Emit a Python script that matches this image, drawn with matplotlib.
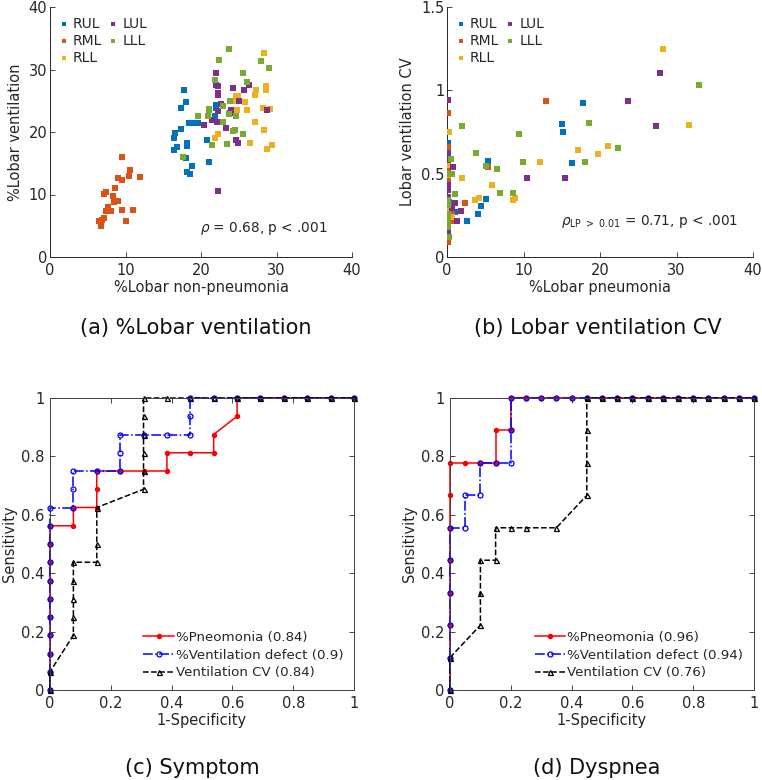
import matplotlib
matplotlib.use("Agg")
import matplotlib.pyplot as plt
import numpy as np

# ---- colours (MATLAB default order) ----
C_RUL, C_RML, C_RLL, C_LUL, C_LLL = "#0072BD", "#D95319", "#EDB120", "#7E2F8E", "#77AC30"
TXT = "#262626"

lobes = ["RUL", "RML", "RLL", "LUL", "LLL"]
lobe_colors = [C_RUL, C_RML, C_RLL, C_LUL, C_LLL]

# ---- (a) %lobar non-pneumonia vs %lobar ventilation ----
a_rul_x = [17.7, 18.0, 17.3, 22.0, 22.0, 21.9, 19.2, 19.6, 18.4, 17.4, 16.5, 16.4, 16.8, 16.4, 18.1, 18.1, 20.8, 18.0, 21.0, 18.8, 18.1, 18.6]
a_rul_y = [26.8, 24.8, 23.8, 24.4, 23.8, 22.6, 21.5, 21.4, 21.4, 20.5, 19.9, 19.1, 17.6, 17.1, 18.3, 17.8, 18.7, 15.9, 15.2, 14.5, 13.6, 13.3]
a_rml_x = [9.5, 10.6, 10.4, 11.9, 9.0, 9.6, 8.6, 7.4, 7.1, 8.3, 9.0, 8.5, 7.7, 7.4, 8.1, 9.5, 11.0, 10.0, 6.5, 6.9, 7.2, 6.8]
a_rml_y = [16.0, 13.9, 13.0, 12.8, 12.7, 12.3, 11.0, 10.4, 10.1, 9.7, 9.0, 8.8, 8.0, 7.4, 7.4, 7.6, 7.6, 5.8, 5.7, 6.0, 6.2, 4.9]
a_rll_x = [28.4, 28.6, 28.6, 27.3, 27.2, 24.6, 24.9, 24.6, 25.8, 28.2, 29.2, 26.1, 24.8, 24.7, 27.2, 28.4, 22.3, 21.9, 26.5, 29.4, 28.8]
a_rll_y = [32.7, 27.3, 26.8, 26.8, 25.9, 25.8, 25.7, 24.9, 24.8, 23.8, 23.7, 23.6, 23.5, 22.5, 21.6, 20.4, 19.7, 19.1, 18.3, 18.0, 17.3]
a_lul_x = [22.0, 22.0, 22.3, 22.3, 22.2, 24.2, 25.7, 26.3, 25.0, 22.6, 24.0, 23.9, 22.2, 21.5, 22.1, 20.4, 23.3, 24.7, 24.9, 28.8, 22.3]
a_lul_y = [29.5, 27.5, 27.3, 26.2, 25.9, 27.0, 26.7, 27.5, 24.9, 24.5, 23.6, 23.0, 23.4, 22.0, 21.6, 21.1, 20.7, 18.8, 18.3, 23.6, 10.6]
a_lll_x = [23.7, 22.4, 27.9, 29.0, 25.5, 26.1, 21.9, 23.8, 22.9, 21.0, 21.0, 19.6, 20.9, 23.7, 24.6, 22.9, 24.5, 24.2, 25.5, 21.5, 23.5, 17.6]
a_lll_y = [33.3, 31.5, 31.4, 30.2, 29.5, 28.0, 28.3, 24.9, 24.2, 23.7, 23.5, 22.6, 22.5, 22.9, 22.5, 21.6, 20.3, 20.1, 19.7, 17.9, 18.1, 16.0]

# ---- (b) %lobar pneumonia vs lobar ventilation CV ----
b_rul_x = [17.8, 15.0, 15.1, 16.4, 5.4, 5.1, 4.5, 4.0, 2.6, 1.1, 0.1, 0.1, 0.1, 0.1, 0.2, 0.1, 0.1, 0.1, 0.1]
b_rul_y = [0.926, 0.798, 0.748, 0.564, 0.574, 0.348, 0.304, 0.260, 0.214, 0.270, 0.682, 0.638, 0.45, 0.29, 0.33, 0.42, 0.25, 0.36, 0.52]
b_rml_x = [13.0, 5.4, 2.4, 0.7, 0.7, 0.1, 0.1, 0.1, 0.1, 0.1, 0.1, 0.1, 0.1, 0.2, 0.1]
b_rml_y = [0.936, 0.54, 0.326, 0.214, 0.268, 0.862, 0.662, 0.532, 0.462, 0.41, 0.09, 0.49, 0.35, 0.30, 0.20]
b_rll_x = [28.2, 31.6, 21.0, 19.8, 17.1, 12.2, 9.9, 5.9, 4.2, 3.6, 8.9, 8.6, 1.9, 0.2, 0.7, 0.1, 0.1, 0.1, 0.1, 0.1]
b_rll_y = [1.248, 0.792, 0.664, 0.616, 0.640, 0.572, 0.572, 0.434, 0.356, 0.340, 0.352, 0.342, 0.472, 0.748, 0.24, 0.552, 0.49, 0.352, 0.28, 0.17]
b_lul_x = [27.8, 23.6, 27.3, 10.4, 15.4, 0.8, 1.0, 0.7, 1.8, 1.3, 0.1, 0.1, 0.1, 0.1, 0.1, 0.1, 0.1, 0.1, 0.1]
b_lul_y = [1.104, 0.936, 0.784, 0.474, 0.474, 0.54, 0.322, 0.294, 0.278, 0.216, 0.94, 0.618, 0.58, 0.43, 0.40, 0.16, 0.13, 0.36, 0.25]
b_lll_x = [33.0, 18.5, 22.4, 18.1, 9.4, 9.9, 6.6, 5.1, 3.8, 6.9, 8.6, 2.0, 1.0, 0.6, 0.5, 0.3, 0.1, 0.1, 0.1, 0.1, 0.1, 0.1, 0.1]
b_lll_y = [1.034, 0.806, 0.654, 0.568, 0.736, 0.568, 0.528, 0.548, 0.626, 0.386, 0.386, 0.786, 0.380, 0.496, 0.586, 0.12, 0.50, 0.34, 0.31, 0.26, 0.20, 0.18, 0.22]

# ---- (c) symptom ROC ----
n13 = 1 / 13
c_pn_x = [0] * 10 + [n13, n13, 2*n13, 2*n13, 2*n13, 3*n13, 4*n13, 5*n13, 5*n13, 6*n13, 7*n13, 7*n13, 8*n13, 8*n13, 9*n13, 10*n13, 11*n13, 12*n13, 1]
c_pn_y = [0, .0625, .125, .1875, .25, .3125, .375, .4375, .5, .5625,
          .5625, .625, .625, .6875, .75, .75, .75, .75, .8125, .8125, .8125, .875, .9375, 1, 1, 1, 1, 1, 1]
c_vd_x = [0] * 11 + [n13, n13, n13, 2*n13, 3*n13, 3*n13, 3*n13, 4*n13, 5*n13, 6*n13, 6*n13, 6*n13, 7*n13, 8*n13, 9*n13, 10*n13, 11*n13, 12*n13, 1]
c_vd_y = [0, .0625, .125, .1875, .25, .3125, .375, .4375, .5, .5625, .625,
          .625, .6875, .75, .75, .75, .8125, .875, .875, .875, .875, .9375, 1, 1, 1, 1, 1, 1, 1, 1]
c_cv_x = [0, 0, n13, n13, n13, n13, n13, 2*n13, 2*n13, 2*n13, 4*n13, 4*n13, 4*n13, 4*n13, 4*n13, 4*n13, 5*n13, 6*n13, 7*n13, 8*n13, 9*n13, 10*n13, 11*n13, 12*n13, 1]
c_cv_y = [0, .0625, .1875, .25, .3125, .375, .4375, .4375, .5, .625, .6875, .75, .8125, .875, .9375, 1, 1, 1, 1, 1, 1, 1, 1, 1, 1]
c_auc = [0.84, 0.9, 0.84]

# ---- (d) dyspnea ROC ----
n9 = 1 / 9
d_pn_x = [0] * 8 + [.05, .1, .15, .15, .2, .2] + [.25, .3, .35, .4, .45, .5, .55, .6, .65, .7, .75, .8, .85, .9, .95, 1]
d_pn_y = [0, n9, 2*n9, 3*n9, 4*n9, 5*n9, 6*n9, 7*n9, 7*n9, 7*n9, 7*n9, 8*n9, 8*n9, 1] + [1] * 16
d_vd_x = [0] * 6 + [.05, .05, .1, .1, .15, .2, .2, .2] + [.25, .3, .35, .4, .45, .5, .55, .6, .65, .7, .75, .8, .85, .9, .95, 1]
d_vd_y = [0, n9, 2*n9, 3*n9, 4*n9, 5*n9, 5*n9, 6*n9, 6*n9, 7*n9, 7*n9, 7*n9, 8*n9, 1] + [1] * 16
d_cv_x = [0, 0, .1, .1, .1, .15, .15, .2, .25, .35, .45, .45, .45, .45, .5, .55, .6, .65, .7, .75, .8, .85, .9, .95, 1]
d_cv_y = [0, n9, 2*n9, 3*n9, 4*n9, 4*n9, 5*n9, 5*n9, 5*n9, 5*n9, 6*n9, 7*n9, 8*n9, 1, 1, 1, 1, 1, 1, 1, 1, 1, 1, 1, 1]
d_auc = [0.96, 0.94, 0.76]

roc_names = ["%Pneomonia", "%Ventilation defect", "Ventilation CV"]

W, H = 762, 780
fig = plt.figure(figsize=(W / 100, H / 100), dpi=100)


def px_axes(l, t, r, b):
    return fig.add_axes([l / W, 1 - b / H, (r - l) / W, (b - t) / H])


def style(ax, box, ypad):
    for s in ["left", "bottom", "top", "right"]:
        ax.spines[s].set_color(TXT if not box else "#404040")
        ax.spines[s].set_linewidth(0.7)
    if not box:
        ax.spines["top"].set_visible(False)
        ax.spines["right"].set_visible(False)
    ax.tick_params(direction="in", length=3.5, width=0.6, colors=TXT,
                   labelsize=10.5, top=box, right=box)
    ax.tick_params(axis="x", pad=4)
    ax.tick_params(axis="y", pad=ypad)


def scatter_panel(ax, xs, ys, xlabel, ylabel, ylim, yticks, yticklabels, note, note_xy):
    for lab, col, x, y in zip(lobes, lobe_colors, xs, ys):
        ax.scatter(x, y, marker="s", s=15, color=col, linewidths=0, label=lab, zorder=3)
    ax.set_xlim(0, 40)
    ax.set_ylim(*ylim)
    ax.set_xticks([0, 10, 20, 30, 40])
    ax.set_yticks(yticks)
    ax.set_yticklabels(yticklabels)
    ax.set_xlabel(xlabel, fontsize=10.5, color=TXT, labelpad=2)
    ax.set_ylabel(ylabel, fontsize=10.5, color=TXT, labelpad=4)
    style(ax, box=False, ypad=2)
    leg = ax.legend(loc="upper left", ncol=2, frameon=False, fontsize=10,
                    handlelength=0.6, handletextpad=0.35, columnspacing=0.5,
                    labelspacing=0.22, borderaxespad=0.3, markerscale=0.8)
    for t in leg.get_texts():
        t.set_color(TXT)
    ax.text(note_xy[0], note_xy[1], note, fontsize=9.8, color=TXT, va="center")


def roc_panel(ax, curves, aucs):
    styles = [dict(color="red", ls="-", marker=".", ms=6, mfc="red", mec="red"),
              dict(color="blue", ls="-.", marker="o", ms=3.6, mfc="none", mec="blue"),
              dict(color="black", ls="--", marker="^", ms=3.6, mfc="none", mec="black")]
    for (x, y), st, name, auc in zip(curves, styles, roc_names, aucs):
        ax.plot(x, y, lw=1.1, mew=0.9, label=f"{name} ({auc:g})", clip_on=False, **st)
    ax.set_xlim(0, 1)
    ax.set_ylim(0, 1)
    ax.set_xticks([0, 0.2, 0.4, 0.6, 0.8, 1])
    ax.set_xticklabels(["0", "0.2", "0.4", "0.6", "0.8", "1"])
    ax.set_yticks([0, 0.2, 0.4, 0.6, 0.8, 1])
    ax.set_yticklabels(["0", "0.2", "0.4", "0.6", "0.8", "1"])
    ax.set_xlabel("1-Specificity", fontsize=10.5, color=TXT, labelpad=2)
    ax.set_ylabel("Sensitivity", fontsize=10.5, color=TXT, labelpad=3)
    style(ax, box=True, ypad=4)
    leg = ax.legend(loc="lower right", frameon=False, fontsize=9.6, handlelength=2.3,
                    handletextpad=0.15, labelspacing=0.35, borderaxespad=0.4)
    for t in leg.get_texts():
        t.set_color(TXT)


ax_a = px_axes(50, 7, 352, 257)
scatter_panel(ax_a, [a_rul_x, a_rml_x, a_rll_x, a_lul_x, a_lll_x],
              [a_rul_y, a_rml_y, a_rll_y, a_lul_y, a_lll_y],
              "%Lobar non-pneumonia", "%Lobar ventilation", (0, 40),
              [0, 10, 20, 30, 40], ["0", "10", "20", "30", "40"],
              r"$\rho$ = 0.68, p < .001", (19.9, 4.6))

ax_b = px_axes(447, 7, 753, 257)
scatter_panel(ax_b, [b_rul_x, b_rml_x, b_rll_x, b_lul_x, b_lll_x],
              [b_rul_y, b_rml_y, b_rll_y, b_lul_y, b_lll_y],
              "%Lobar pneumonia", "Lobar ventilation CV", (0, 1.5),
              [0, 0.5, 1, 1.5], ["0", "0.5", "1", "1.5"],
              r"$\rho_{\mathrm{LP\ >\ 0.01}}$ = 0.71, p < .001", (14.9, 0.21))

ax_c = px_axes(50, 398, 354, 690)
roc_panel(ax_c, [(c_pn_x, c_pn_y), (c_vd_x, c_vd_y), (c_cv_x, c_cv_y)], c_auc)

ax_d = px_axes(450, 398, 754, 690)
roc_panel(ax_d, [(d_pn_x, d_pn_y), (d_vd_x, d_vd_y), (d_cv_x, d_cv_y)], d_auc)

captions = [("(a) %Lobar ventilation", 196, 328), ("(b) Lobar ventilation CV", 598, 328),
            ("(c) Symptom", 192, 768), ("(d) Dyspnea", 597, 768)]
for txt, x, y in captions:
    fig.text(x / W, 1 - y / H, txt, fontsize=15, color="#111111", ha="center", va="center")

fig.savefig("out.png", dpi=100)
